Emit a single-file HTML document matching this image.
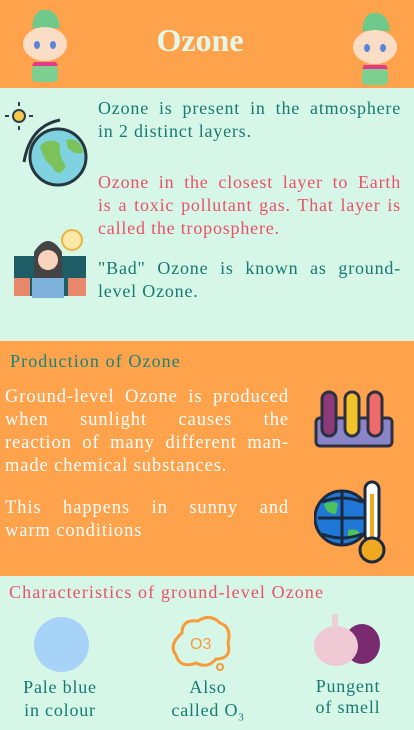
<!DOCTYPE html>
<html><head><meta charset="utf-8"><style>
*{margin:0;padding:0;box-sizing:border-box}
body{width:414px;height:725px;overflow:hidden;background:#d6f7e8;font-family:"Liberation Serif",serif;position:relative}
.abs{position:absolute}
.p{font-size:18px;letter-spacing:0.8px;line-height:23px}
.p span{display:block;text-align:justify;text-align-last:justify;white-space:nowrap}
.p span.l{text-align-last:left}
.w{font-size:18.5px;letter-spacing:0.9px}
.h{font-size:18px;letter-spacing:1.1px}
.lb{font-size:18px;letter-spacing:0.8px}
</style></head><body>
<div class="abs" style="left:0;top:0;width:414px;height:88px;background:#ffa24c"></div>
<div class="abs" style="left:130px;top:22px;width:140px;text-align:center;font-size:32px;color:#e4f8ea;font-weight:bold">Ozone</div>
<svg class="abs" style="left:20px;top:6px" width="50" height="78" viewBox="0 0 50 78">
<path d="M12 22 Q14 2 26 4 Q38 4 40 22 Z" fill="#6fc98a"/><ellipse cx="25" cy="38" rx="22" ry="17" fill="#fbdcc4"/>
<ellipse cx="17" cy="39" rx="3" ry="4" fill="#5a86d8"/><ellipse cx="33" cy="39" rx="3" ry="4" fill="#5a86d8"/>
<path d="M14 56 L36 56 L38 60 L12 60Z" fill="#e23b8a"/><rect x="12" y="60" width="26" height="16" rx="4" fill="#7ccf8f"/></svg>
<svg class="abs" style="left:350px;top:9px" width="50" height="78" viewBox="0 0 50 78">
<path d="M12 22 Q14 2 26 4 Q38 4 40 22 Z" fill="#6fc98a"/><ellipse cx="25" cy="38" rx="22" ry="17" fill="#fbdcc4"/>
<ellipse cx="17" cy="39" rx="3" ry="4" fill="#5a86d8"/><ellipse cx="33" cy="39" rx="3" ry="4" fill="#5a86d8"/>
<path d="M14 56 L36 56 L38 60 L12 60Z" fill="#e23b8a"/><rect x="12" y="60" width="26" height="16" rx="4" fill="#7ccf8f"/></svg>

<svg class="abs" style="left:0;top:96px" width="92" height="92">
<circle cx="19" cy="20" r="6" fill="#f9c84a" stroke="#2d3e4a" stroke-width="2"/>
<g stroke="#2d3e4a" stroke-width="2"><line x1="19" y1="6" x2="19" y2="10"/><line x1="19" y1="30" x2="19" y2="34"/><line x1="5" y1="20" x2="9" y2="20"/><line x1="29" y1="20" x2="33" y2="20"/></g>
<circle cx="58" cy="61" r="28" fill="#7fd3e0" stroke="#25363f" stroke-width="3"/>
<path d="M40 50 Q50 40 60 48 Q58 60 66 70 Q58 84 52 70 Q44 66 40 50Z M66 44 Q78 40 84 56 Q76 60 68 52Z" fill="#7cc25a"/>
<path d="M24 66 Q30 30 60 24" fill="none" stroke="#25363f" stroke-width="3"/></svg>
<svg class="abs" style="left:12px;top:222px" width="76" height="76">
<rect x="2" y="34" width="72" height="40" fill="#1f5d66"/><circle cx="60" cy="18" r="10" fill="#fbe8a8" stroke="#e8b43c" stroke-width="2"/>
<path d="M22 70 L22 30 Q36 8 50 30 L50 70Z" fill="#444"/><circle cx="36" cy="38" r="10" fill="#f9d3bd"/>
<rect x="20" y="56" width="32" height="20" fill="#7fb2dc"/><rect x="2" y="56" width="16" height="18" fill="#e8886a"/><rect x="56" y="56" width="18" height="18" fill="#e8886a"/></svg>

<div class="abs p" style="left:98px;top:97px;width:303px;color:#167a70"><span>Ozone is present in the atmosphere</span><span class="l">in 2 distinct layers.</span></div>
<div class="abs p" style="left:98px;top:171px;width:303px;color:#ea5068"><span>Ozone in the closest layer to Earth</span><span>is a toxic pollutant gas. That layer is</span><span class="l">called the troposphere.</span></div>
<div class="abs p" style="left:98px;top:257px;width:303px;color:#167a70"><span>"Bad" Ozone is known as ground-</span><span class="l">level Ozone.</span></div>

<div class="abs" style="left:0;top:341px;width:414px;height:235px;background:#ffa24c"></div>
<div class="abs h" style="left:10px;top:351px;color:#17857a">Production of Ozone</div>
<div class="abs p w" style="left:5px;top:386px;width:284px;color:#fff"><span>Ground-level Ozone is produced</span><span>when sunlight causes the</span><span>reaction of many different man-</span><span class="l">made chemical substances.</span></div>
<div class="abs p w" style="left:5px;top:497px;width:284px;color:#fff"><span>This happens in sunny and</span><span class="l">warm conditions</span></div>
<svg class="abs" style="left:314px;top:388px" width="80" height="62">
<rect x="2" y="30" width="76" height="28" rx="4" fill="#8a84c8" stroke="#2d3040" stroke-width="3"/>
<rect x="8" y="4" width="14" height="44" rx="7" fill="#8c3a78" stroke="#2d3040" stroke-width="3"/>
<rect x="31" y="4" width="14" height="44" rx="7" fill="#f2c42a" stroke="#2d3040" stroke-width="3"/>
<rect x="54" y="4" width="14" height="44" rx="7" fill="#ef6a6a" stroke="#2d3040" stroke-width="3"/></svg>
<svg class="abs" style="left:314px;top:474px" width="80" height="94">
<circle cx="28" cy="44" r="27" fill="#1f78d6" stroke="#1c2a40" stroke-width="3"/>
<path d="M10 30 Q20 26 24 30 L22 40 Q12 40 10 30Z M34 56 Q44 54 46 60 Q38 68 34 64Z" fill="#4cc25a"/>
<path d="M8 28 Q28 20 48 28 M4 44 H52 M8 60 Q28 68 48 60 M28 17 V71" stroke="#1c2a40" stroke-width="3" fill="none"/>
<rect x="51" y="8" width="14" height="60" rx="7" fill="#fff" stroke="#1c2a40" stroke-width="3"/>
<rect x="56" y="20" width="4" height="50" fill="#f0a820"/>
<circle cx="58" cy="76" r="12" fill="#f0a820" stroke="#1c2a40" stroke-width="3"/></svg>

<div class="abs h" style="left:9px;top:582px;color:#ea5068">Characteristics of ground-level Ozone</div>
<div class="abs" style="left:34px;top:617px;width:55px;height:55px;border-radius:50%;background:#a6d3f7"></div>
<svg class="abs" style="left:168px;top:613px" width="66" height="62">
<path d="M14 20 Q14 6 30 8 Q42 0 52 10 Q64 14 60 30 Q64 46 48 46 Q40 56 28 50 Q12 56 8 42 Q0 32 14 20Z" fill="none" stroke="#f79a3a" stroke-width="3"/>
<text x="22" y="36" font-family="Liberation Sans, sans-serif" font-size="16" fill="#f79a3a">O3</text>
<circle cx="52" cy="54" r="3" fill="none" stroke="#f79a3a" stroke-width="2"/></svg>
<svg class="abs" style="left:310px;top:614px" width="72" height="56">
<ellipse cx="52" cy="30" rx="18" ry="20" fill="#7a2a6e"/>
<ellipse cx="26" cy="32" rx="22" ry="20" fill="#efc9d4"/><rect x="22" y="0" width="6" height="14" fill="#ebd0d6"/></svg>

<div class="abs lb" style="left:5px;top:676px;width:110px;text-align:center;line-height:23px;color:#167a70">Pale blue<br>in colour</div>
<div class="abs lb" style="left:153px;top:676px;width:110px;text-align:center;line-height:23px;color:#167a70">Also<br>called O<sub style="font-size:11px">3</sub></div>
<div class="abs lb" style="left:293px;top:676px;width:110px;text-align:center;line-height:21px;color:#167a70">Pungent<br>of smell</div>
</body></html>
